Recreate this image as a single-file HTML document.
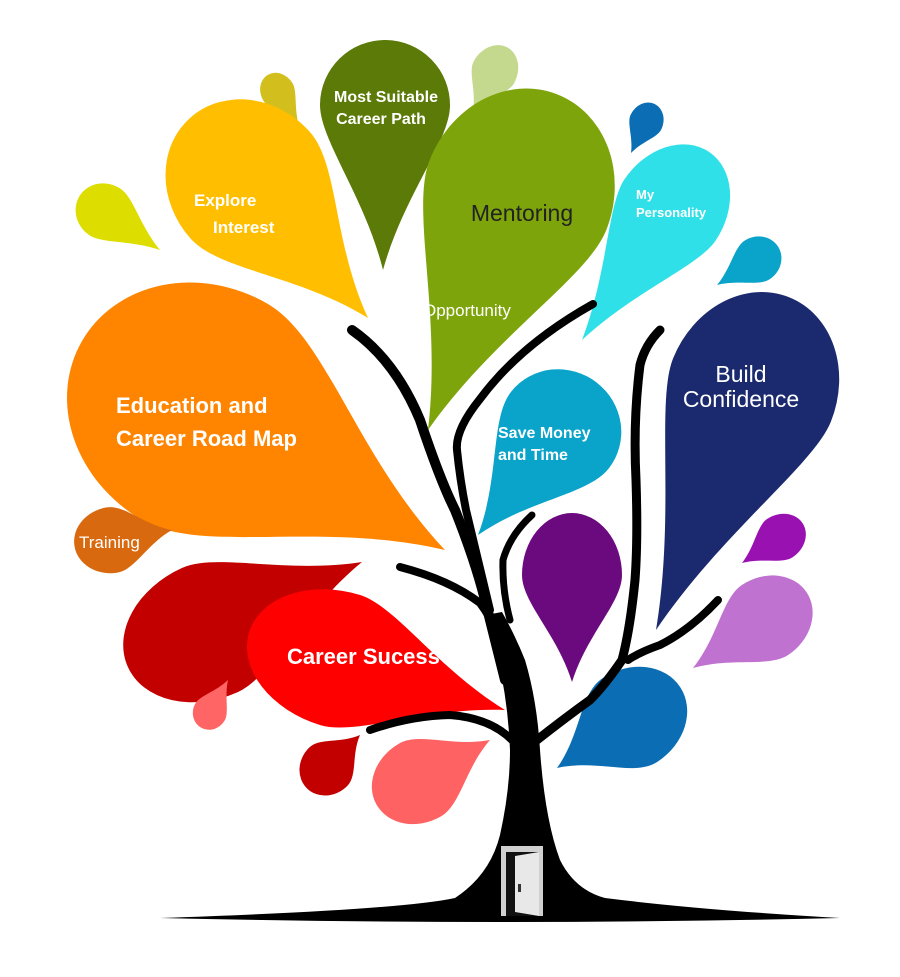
<!DOCTYPE html>
<html><head><meta charset="utf-8"><style>
html,body{margin:0;padding:0;background:#fff;width:900px;height:977px;overflow:hidden}
svg{display:block}
text{font-family:"Liberation Sans",sans-serif}
</style></head><body>
<svg id="s" width="900" height="977" viewBox="0 0 900 977" xmlns="http://www.w3.org/2000/svg">
<g id="leaves"></g>
<g id="tree" fill="none" stroke="#000" stroke-linecap="round" stroke-linejoin="round">
<path fill="#000" stroke="none" d="M160,918 Q400,910 455,898 Q490,875 500,835 Q510,790 510,750 Q508,700 497,655 Q490,630 486,615 L502,612 Q515,635 525,660 Q537,700 540,750 Q545,820 560,860 Q575,890 605,898 Q700,910 840,918 Q500,926 160,918Z"/>
<path stroke-width="10" d="M352,330 Q395,360 420,420 Q440,480 455,510 Q475,560 485,600 Q495,640 505,680"/>
<path stroke-width="8" d="M593,304 Q520,345 480,399 Q455,430 457,450 Q460,480 466,510 Q478,560 490,610"/>
<path stroke-width="7" d="M532,515 Q510,535 503,560 Q502,590 510,620"/>
<path stroke-width="8" d="M400,567 Q450,580 480,603 Q500,630 510,670"/>
<path stroke-width="9" d="M660,330 Q645,345 640,365 Q633,420 636,480 Q638,540 635,580 Q630,630 622,660 Q605,685 590,700 Q565,718 537,740"/>
<path stroke-width="8" d="M718,600 Q690,630 660,645 Q640,652 628,660"/>
<path stroke-width="8" d="M370,730 Q410,716 450,715 Q490,718 512,740"/>
</g>
<rect x="501" y="846" width="42" height="70" fill="#d0d0d0"/>
<rect x="506" y="852" width="33" height="64" fill="#111"/>
<polygon points="515,856 539,852 539,916 515,912" fill="#e8e8e8"/>
<rect x="518" y="884" width="3" height="8" fill="#333"/>
<g fill="#fff" font-weight="bold">
<text x="386" y="102" font-size="16" text-anchor="middle">Most Suitable</text>
<text x="381" y="124" font-size="16" text-anchor="middle">Career Path</text>
<text x="194" y="206" font-size="17">Explore</text>
<text x="213" y="233" font-size="17">Interest</text>
<text x="116" y="413" font-size="22">Education and</text>
<text x="116" y="446" font-size="22">Career Road Map</text>
<text x="498" y="438" font-size="16">Save Money</text>
<text x="498" y="460" font-size="16">and Time</text>
<text x="287" y="664" font-size="22">Career Sucess</text>
<text x="636" y="199" font-size="13">My</text>
<text x="636" y="217" font-size="13">Personality</text>
</g>
<text x="522" y="221" font-size="23" fill="#222" text-anchor="middle">Mentoring</text>
<text x="423" y="316" font-size="17" fill="#fff">Opportunity</text>
<text x="741" y="382" font-size="23" fill="#fff" text-anchor="middle">Build</text>
<text x="741" y="407" font-size="23" fill="#fff" text-anchor="middle">Confidence</text>
<text x="79" y="548" font-size="17" fill="#fff">Training</text>
</svg>
<script>
var L=[
[160,250,105,212,28,30,"#dddd00"],
[299,126,278,92,17,20,"#d2bf1e"],
[368,318,250,185,80,90,"#ffbf00"],
[383,270,385,105,65,65,"#5b7a08"],
[473,110,494,72,23,28,"#c5d98e"],
[428,430,518,195,95,108,"#7ea40c"],
[631,153,646,122,17,20,"#0b6db3"],
[582,340,670,210,55,70,"#30e0e8"],
[717,285,757,260,23,25,"#0aa3c9"],
[656,630,752,390,85,100,"#1b2a6e"],
[478,535,560,430,62,60,"#0aa3c9"],
[445,550,205,412,125,142,"#ff8500"],
[172,530,112,540,33,38,"#d9690f"],
[572,682,572,575,50,62,"#6b0a7e"],
[742,563,780,538,23,27,"#9a11b2"],
[693,668,765,620,42,50,"#c072d0"],
[362,562,210,630,68,90,"#c30000"],
[505,710,340,660,68,95,"#ff0000"],
[228,680,210,712,17,18,"#ff6565"],
[360,735,328,767,27,30,"#c30000"],
[490,740,420,780,42,50,"#ff6262"],
[557,768,630,720,50,60,"#0b6db3"]];
var g=document.getElementById("leaves"),h="";
L.forEach(function(q){var tx=q[0],ty=q[1],cx=q[2],cy=q[3],r=q[4],a=q[5];
var dx=cx-tx,dy=cy-ty,l=Math.hypot(dx,dy);dx/=l;dy/=l;var nx=-dy,ny=dx;
var Ax=cx+r*nx,Ay=cy+r*ny,Bx=cx-r*nx,By=cy-r*ny,Fx=cx+a*dx,Fy=cy+a*dy;
var rot=Math.atan2(dy,dx)*180/Math.PI;
var p1x=tx+(cx-tx)*0.45+nx*r*0.3,p1y=ty+(cy-ty)*0.45+ny*r*0.3;
var p2x=Ax-dx*r*0.55,p2y=Ay-dy*r*0.55;
var q1x=tx+(cx-tx)*0.45-nx*r*0.3,q1y=ty+(cy-ty)*0.45-ny*r*0.3;
var q2x=Bx-dx*r*0.55,q2y=By-dy*r*0.55;
var f=function(v){return v.toFixed(1)};
h+='<path fill="'+q[6]+'" d="M'+f(tx)+','+f(ty)+' C'+f(p1x)+','+f(p1y)+' '+f(p2x)+','+f(p2y)+' '+f(Ax)+','+f(Ay)+
' A'+a+','+r+' '+f(rot)+' 0 0 '+f(Fx)+','+f(Fy)+' A'+a+','+r+' '+f(rot)+' 0 0 '+f(Bx)+','+f(By)+
' C'+f(q2x)+','+f(q2y)+' '+f(q1x)+','+f(q1y)+' '+f(tx)+','+f(ty)+'Z"/>';});
g.innerHTML=h;
</script>
</body></html>
